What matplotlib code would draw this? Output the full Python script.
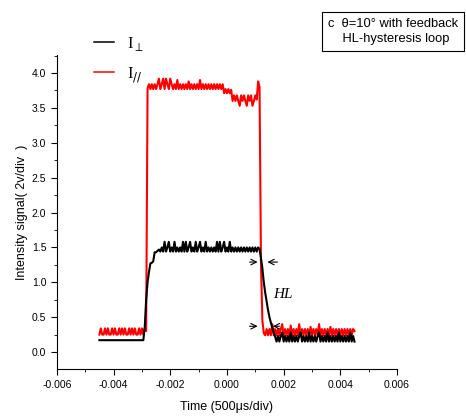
import numpy as np
import matplotlib
matplotlib.use("Agg")
import matplotlib.pyplot as plt
from matplotlib.ticker import MultipleLocator

plt.rcParams['font.family'] = ['Liberation Sans', 'DejaVu Sans']

# scope traces, sampled every 50 us from -0.0045 s to 0.0045 s
# I_perp (black trace)
i_perp = (
    [0.17] * 32
    + [0.35, 0.75, 1.00, 1.15, 1.27, 1.28, 1.30, 1.43, 1.43, 1.45, 1.47]
    + [1.44, 1.50, 1.44, 1.58, 1.44, 1.50, 1.58, 1.44, 1.50, 1.44,
       1.58, 1.44, 1.50, 1.44, 1.50, 1.44, 1.58, 1.44, 1.58, 1.44,
       1.50, 1.58, 1.44, 1.50, 1.44, 1.58, 1.44, 1.50, 1.58, 1.44,
       1.50, 1.44, 1.58, 1.44, 1.50, 1.44, 1.50, 1.44, 1.50, 1.44,
       1.58, 1.44, 1.58, 1.44, 1.50, 1.58, 1.44, 1.50, 1.44, 1.58,
       1.44, 1.50, 1.44, 1.50, 1.44, 1.50, 1.44, 1.50, 1.44, 1.50,
       1.44, 1.50, 1.44, 1.50, 1.44, 1.50, 1.44, 1.50, 1.44, 1.50,
       1.48]
    + [1.35, 1.20, 1.00, 0.85, 0.72, 0.60, 0.50, 0.42, 0.35, 0.28, 0.22]
    + [0.15, 0.23, 0.15, 0.23, 0.28, 0.15, 0.23, 0.15, 0.23, 0.15,
       0.28, 0.15, 0.23, 0.15, 0.23, 0.15, 0.23, 0.28, 0.15, 0.23,
       0.15, 0.23, 0.15, 0.28, 0.15, 0.23, 0.15, 0.23, 0.15, 0.23,
       0.28, 0.15, 0.23, 0.15, 0.23, 0.15, 0.28, 0.15, 0.23, 0.15,
       0.23, 0.15, 0.23, 0.15, 0.28, 0.15, 0.23, 0.15, 0.23, 0.15,
       0.23, 0.15, 0.28, 0.15, 0.23, 0.15]
)

# I_par (red trace)
i_par = (
    [0.25, 0.34, 0.25, 0.25, 0.34, 0.25, 0.34, 0.25, 0.25, 0.34,
     0.25, 0.34, 0.25, 0.25, 0.34, 0.25, 0.34, 0.25, 0.34, 0.25,
     0.25, 0.34, 0.25, 0.34, 0.25, 0.34, 0.25, 0.25, 0.34, 0.25,
     0.34, 0.25, 0.34, 0.30]
    + [3.78]
    + [3.84, 3.77, 3.84, 3.77, 3.84, 3.77, 3.84, 3.92, 3.77, 3.84,
       3.92, 3.77, 3.92, 3.84, 3.77, 3.92, 3.84, 3.77, 3.84, 3.77,
       3.90, 3.77, 3.84, 3.77, 3.84, 3.77, 3.84, 3.77, 3.88, 3.77,
       3.84, 3.77, 3.84, 3.77, 3.84, 3.77, 3.90, 3.77, 3.84, 3.77,
       3.84, 3.77, 3.84, 3.77, 3.84, 3.77, 3.84, 3.77, 3.84, 3.77,
       3.84, 3.77, 3.84]
    + [3.71, 3.77, 3.71, 3.77, 3.71, 3.76]
    + [3.60, 3.68, 3.60, 3.68, 3.60, 3.53, 3.68, 3.60, 3.68, 3.60,
       3.53, 3.68, 3.60, 3.68, 3.53, 3.60, 3.68, 3.62]
    + [3.88, 3.80, 1.30, 0.45, 0.27]
    + [0.24, 0.33, 0.24, 0.33, 0.24, 0.40, 0.24, 0.33, 0.24, 0.33,
       0.24, 0.33, 0.40, 0.24, 0.33, 0.24, 0.33, 0.24, 0.38, 0.24,
       0.33, 0.24, 0.33, 0.24, 0.40, 0.24, 0.33, 0.24, 0.33, 0.24,
       0.33, 0.24, 0.36, 0.24, 0.33, 0.24, 0.33, 0.24, 0.40, 0.24,
       0.33, 0.24, 0.33, 0.24, 0.33, 0.24, 0.36, 0.24, 0.33, 0.24,
       0.33, 0.24, 0.33, 0.24, 0.33, 0.24, 0.33, 0.24, 0.33, 0.24,
       0.33, 0.24, 0.33, 0.30]
)

t_perp = np.linspace(-0.0045, 0.0045, len(i_perp))
t_par = np.linspace(-0.0045, 0.0045, len(i_par))

fig = plt.figure(figsize=(4.66, 4.19), dpi=100)
ax = fig.add_axes([0.122, 0.119, 0.73, 0.75])

red_line, = ax.plot(t_par, i_par, color='red', lw=1.5)
black_line, = ax.plot(t_perp, i_perp, color='black', lw=1.5)

ax.set_xlim(-0.006, 0.006)
ax.set_ylim(-0.245, 4.26)
ax.xaxis.set_major_locator(MultipleLocator(0.002))
ax.xaxis.set_minor_locator(MultipleLocator(0.001))
ax.yaxis.set_major_locator(MultipleLocator(0.5))
ax.yaxis.set_minor_locator(MultipleLocator(0.25))
ax.xaxis.set_major_formatter(plt.FuncFormatter(lambda v, p: '%.3f' % v))
ax.yaxis.set_major_formatter(plt.FuncFormatter(lambda v, p: '%.1f' % v))
ax.tick_params(which='both', direction='out', labelsize=7.5)
ax.tick_params(which='major', length=4)
ax.tick_params(which='minor', length=2.5)
for s in ['top', 'right']:
    ax.spines[s].set_visible(False)

ax.set_xlabel('Time (500\u03bcs/div)', fontsize=9, labelpad=8)
ax.set_ylabel('Intensity signal( 2v/div  )', fontsize=9, labelpad=3)

legend_lines = [plt.Line2D([], [], color='black', lw=1.1),
                plt.Line2D([], [], color='red', lw=1.1)]
leg = ax.legend(legend_lines, [r'I$_{\perp}$', r'I$_{//}$'],
                loc='upper left', bbox_to_anchor=(0.065, 1.11), frameon=False,
                prop={'family': 'Liberation Serif', 'size': 12},
                handlelength=1.2, labelspacing=0.7)

fig.text(0.703, 0.925, 'c  \u03b8=10\u00b0 with feedback\n    HL-hysteresis loop',
         fontsize=9.3, va='center', ha='left', linespacing=1.35,
         bbox=dict(boxstyle='square,pad=0.45', fc='white', ec='black', lw=0.8))

# HL arrows
arr = dict(arrowstyle='->', color='black', lw=0.8)
ax.annotate('', xy=(0.00118, 1.29), xytext=(0.0007, 1.29), arrowprops=arr)
ax.annotate('', xy=(0.00133, 1.29), xytext=(0.00188, 1.29), arrowprops=arr)
ax.annotate('', xy=(0.00118, 0.37), xytext=(0.0007, 0.37), arrowprops=arr)
ax.annotate('', xy=(0.00152, 0.37), xytext=(0.00195, 0.37), arrowprops=arr)
ax.text(0.00162, 0.78, 'HL', fontsize=11, style='italic', family='Liberation Serif')

fig.savefig('out.png', dpi=100)
